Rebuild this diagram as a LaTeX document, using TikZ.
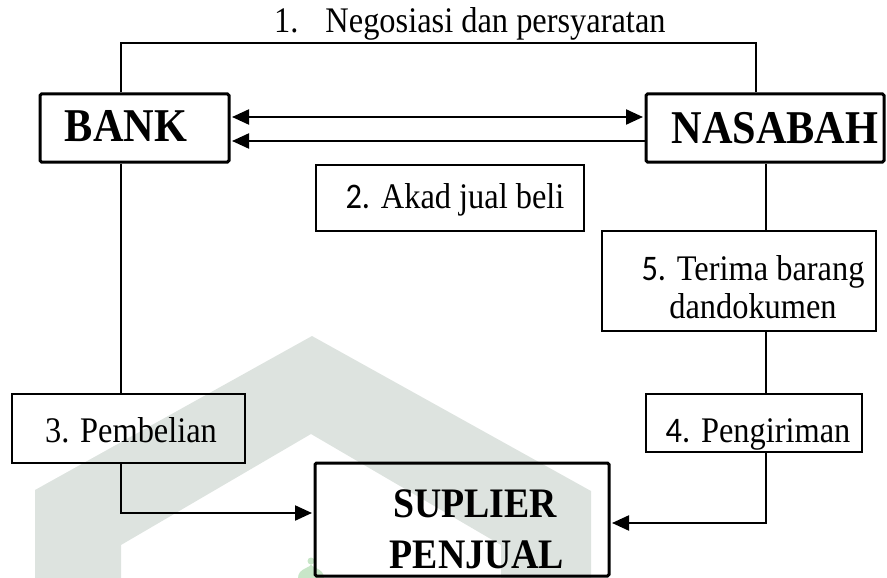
\documentclass[tikz,border=0pt]{standalone}
\usepackage{fontspec}
\setmainfont{Liberation Serif}[FakeStretch=0.9]
\newfontfamily\numfont{Carlito}[FakeStretch=0.9]
\usetikzlibrary{arrows.meta}
\definecolor{wmgrey}{RGB}{221,227,223}
\definecolor{wmgreen}{RGB}{200,230,200}
\begin{document}
\begin{tikzpicture}[x=1pt,y=-1pt,
  thickbox/.style={draw, line width=3pt, rounded corners=1.5pt, inner sep=0pt},
  thinbox/.style={draw, line width=1.3pt, inner sep=0pt},
  conn/.style={line width=1.6pt},
  arr/.style={line width=2.2pt, -{Triangle[length=17pt,width=15pt]}, shorten >=1.5pt},
  darr/.style={line width=2.2pt, {Triangle[length=17pt,width=15pt]}-{Triangle[length=17pt,width=15pt]}, shorten >=1.5pt, shorten <=1.5pt},
  lbl/.style={anchor=base, inner sep=0pt, font=\fontsize{36}{39}\selectfont},
  blbl/.style={anchor=base, inner sep=0pt, font=\fontsize{47}{51}\selectfont\bfseries},
  slbl/.style={anchor=base, inner sep=0pt, font=\fontsize{42}{46}\selectfont\bfseries}
]
\useasboundingbox (0,0) rectangle (887,578);
% watermark
\fill[wmgrey] (35,578) -- (35,490) -- (312,336) -- (591,491) -- (591,578)
  -- (501,578) -- (501,545) -- (311,434) -- (121,545) -- (121,578) -- cycle;
\fill[wmgreen] (311,561) circle (3.5);
\fill[wmgreen] (298,578) .. controls (298,568) and (311,568) .. (311,564)
  .. controls (311,568) and (324,568) .. (324,578) -- cycle;

% boxes
\node[thickbox, minimum width=189pt, minimum height=68pt] (bank) at (134.5,128) {};
\node[thickbox, minimum width=238pt, minimum height=68pt] (nas) at (765,128) {};
\node[thinbox, minimum width=268pt, minimum height=66pt] (akad) at (450,198) {};
\node[thinbox, minimum width=274pt, minimum height=100pt] (terima) at (739,281) {};
\node[thinbox, minimum width=233pt, minimum height=69pt] (pemb) at (128.5,428.5) {};
\node[thinbox, minimum width=216pt, minimum height=58pt] (peng) at (754,423) {};
\node[thickbox, minimum width=294pt, minimum height=113pt] (sup) at (462,519.5) {};

% texts
\node[lbl, anchor=base west] (tnego) at (274,33) {1.\hspace{27pt}Negosiasi dan persyaratan};
\node[blbl] (tbank) at (126,142) {BANK};
\node[blbl] (tnas) at (775,143) {NASABAH};
\node[lbl] (takad) at (455,208) {{\numfont 2.} Akad jual beli};
\node[lbl] (tter1) at (753,280) {{\numfont 5.} Terima barang};
\node[lbl] (tter2) at (753,318) {dandokumen};
\node[lbl] (tpemb) at (131,442) {3. Pembelian};
\node[lbl] (tpeng) at (758,442) {{\numfont 4.} Pengiriman};
\node[slbl] (tsup1) at (475,517) {SUPLIER};
\node[slbl] (tsup2) at (477,568) {PENJUAL};

% helper coordinates
\coordinate (xl) at (121,0);
\coordinate (xr) at (766,0);
\coordinate (xt) at (756,0);
\coordinate (ya1) at (0,117);
\coordinate (ya2) at (0,141);
\coordinate (ya3) at (0,513);
\coordinate (ya4) at (0,523);
\coordinate (c1) at (121,43);
\coordinate (c2) at (756,43);

% connectors
\draw[conn] (bank.north -| xl) -- (c1) -- (c2) -- (nas.north -| xt);
\draw[darr] (bank.east |- ya1) -- (nas.west |- ya1);
\draw[arr] (nas.west |- ya2) -- (bank.east |- ya2);
\draw[conn] (bank.south -| xl) -- (pemb.north -| xl);
\draw[arr] (pemb.south -| xl) |- (sup.west |- ya3);
\draw[conn] (nas.south -| xr) -- (terima.north -| xr);
\draw[conn] (terima.south -| xr) -- (peng.north -| xr);
\draw[arr] (peng.south -| xr) |- (sup.east |- ya4);
\end{tikzpicture}
\end{document}
